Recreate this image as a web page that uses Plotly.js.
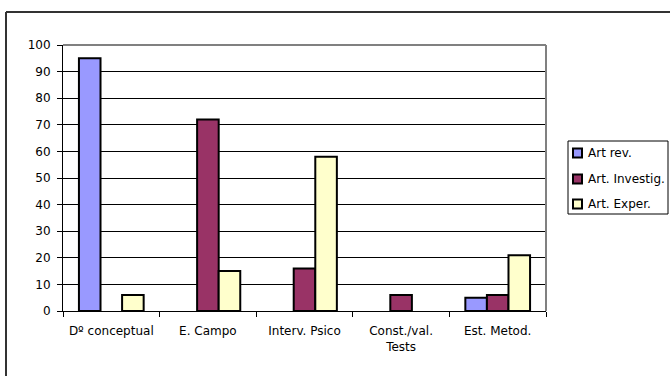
<!DOCTYPE html>
<html>
<head>
<meta charset="utf-8">
<script src="https://cdn.plot.ly/plotly-3.0.1.min.js"></script>
<style>html,body{margin:0;padding:0;background:#fff;}#chart{width:670px;height:376px;}</style>
</head>
<body>
<div id="chart"></div>
<script>
const categories = ["Dº conceptual", "E. Campo", "Interv. Psico", "Const./val.<br>Tests", "Est. Metod."];
const seriesNames = ["Art rev.", "Art. Investig.", "Art. Exper."];
const artRev = [95, 0, 0, 0, 5];
const artInvestig = [0, 72, 16, 6, 6];
const artExper = [6, 15, 58, 0, 21];
const yTicks = [0, 10, 20, 30, 40, 50, 60, 70, 80, 90, 100];

const colors = ["#9999FF", "#993366", "#FFFFCC"];
const values = [artRev, artInvestig, artExper];
const FONT = "DejaVu Sans, Verdana, sans-serif";

const traces = values.map((v, i) => ({
  type: "bar",
  name: seriesNames[i],
  x: categories,
  y: v.map(d => d === 0 ? null : d),
  showlegend: false,
  marker: {color: colors[i], line: {color: "#000", width: 2}},
  hoverinfo: "x+y+name"
}));

const L = 63, R = 546, T = 45, B = 311;
const W = 670, H = 376;
const pw = R - L, ph = B - T;
const px = x => (x - L) / pw;
const py = y => (B - y) / ph;

const shapes = [
  {type: "line", xref: "paper", yref: "paper", x0: 0, x1: 1, y0: 1, y1: 1, line: {color: "#808080", width: 2}},
  {type: "line", xref: "paper", yref: "paper", x0: 1, x1: 1, y0: 0, y1: 1, line: {color: "#808080", width: 2}},
  {type: "line", xref: "paper", yref: "paper", x0: px(6), x1: px(6), y0: py(12), y1: py(380), line: {color: "#333", width: 2}},
  {type: "line", xref: "paper", yref: "paper", x0: px(6), x1: px(680), y0: py(12), y1: py(12), line: {color: "#333", width: 2}},
  // legend box
  {type: "rect", xref: "paper", yref: "paper", x0: px(568), x1: px(668), y0: py(141), y1: py(214), line: {color: "#000", width: 1}, fillcolor: "#fff"}
];
const annotations = [];
const rowY = [153, 179, 204];
seriesNames.forEach((name, i) => {
  shapes.push({type: "rect", xref: "paper", yref: "paper",
    x0: px(573), x1: px(582), y0: py(rowY[i] - 4.5), y1: py(rowY[i] + 4.5),
    line: {color: "#000", width: 2}, fillcolor: colors[i]});
  annotations.push({xref: "paper", yref: "paper", x: px(586), y: py(rowY[i]),
    xanchor: "left", yanchor: "middle", showarrow: false, text: name,
    font: {family: FONT, size: 12, color: "#000"}});
});

const layout = {
  width: W, height: H,
  margin: {l: L, r: W - R, t: T, b: H - B, pad: 0},
  paper_bgcolor: "#fff",
  plot_bgcolor: "#fff",
  font: {family: FONT, size: 12, color: "#000"},
  barmode: "group",
  bargap: 0.33,
  bargroupgap: 0,
  showlegend: false,
  xaxis: {
    type: "category",
    tickson: "boundaries",
    ticks: "outside", ticklen: 5, tickcolor: "#000", tickwidth: 1,
    ticklabelstandoff: 9,
    showline: true, linecolor: "#000", linewidth: 1,
    showgrid: false, zeroline: false,
    tickfont: {family: FONT, size: 12}
  },
  yaxis: {
    range: [0, 100],
    tickvals: yTicks,
    ticks: "outside", ticklen: 5, tickcolor: "#000", tickwidth: 1,
    ticklabelstandoff: 4,
    showline: true, linecolor: "#000", linewidth: 1,
    showgrid: true, gridcolor: "#000", gridwidth: 1,
    zeroline: false,
    tickfont: {family: FONT, size: 12}
  },
  shapes: shapes,
  annotations: annotations
};

Plotly.newPlot("chart", traces, layout, {displayModeBar: false, staticPlot: true});
</script>
</body>
</html>
